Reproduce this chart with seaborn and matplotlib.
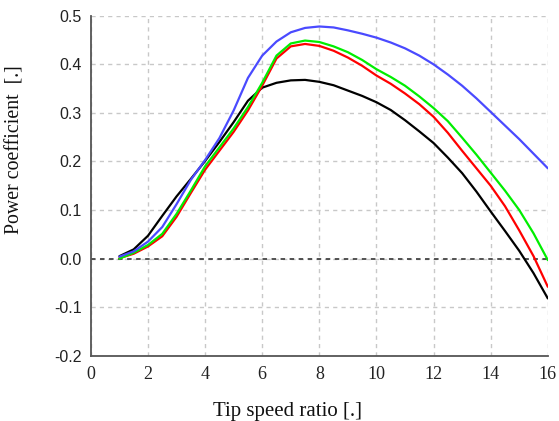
import numpy as np
import pandas as pd
import matplotlib
matplotlib.use("Agg")
import matplotlib.pyplot as plt
import seaborn as sns

tsr = [1, 1.5, 2, 2.5, 3, 3.5, 4, 4.5, 5, 5.5, 6, 6.5, 7, 7.5, 8, 8.5, 9, 9.5,
       10, 10.5, 11, 11.5, 12, 12.5, 13, 13.5, 14, 14.5, 15, 15.5, 16]

cp_black = [0.005, 0.019, 0.047, 0.088, 0.128, 0.164, 0.201, 0.240, 0.281, 0.325,
            0.352, 0.362, 0.367, 0.368, 0.364, 0.357, 0.346, 0.335, 0.322, 0.306,
            0.285, 0.262, 0.238, 0.208, 0.176, 0.138, 0.097, 0.057, 0.016, -0.030,
            -0.082]
cp_red = [0.001, 0.010, 0.025, 0.046, 0.086, 0.135, 0.183, 0.222, 0.261, 0.305,
          0.356, 0.412, 0.437, 0.442, 0.438, 0.428, 0.414, 0.397, 0.377, 0.360,
          0.340, 0.318, 0.292, 0.259, 0.222, 0.186, 0.150, 0.108, 0.058, 0.005,
          -0.058]
cp_green = [0.000, 0.012, 0.028, 0.051, 0.092, 0.140, 0.190, 0.229, 0.268, 0.312,
            0.362, 0.418, 0.443, 0.449, 0.446, 0.437, 0.425, 0.409, 0.390, 0.374,
            0.356, 0.334, 0.310, 0.283, 0.249, 0.214, 0.177, 0.140, 0.100, 0.052,
            -0.003]
cp_blue = [0.004, 0.015, 0.035, 0.065, 0.112, 0.162, 0.203, 0.248, 0.305, 0.372,
           0.418, 0.447, 0.466, 0.475, 0.478, 0.476, 0.470, 0.463, 0.455, 0.445,
           0.433, 0.418, 0.400, 0.379, 0.356, 0.330, 0.302, 0.274, 0.246, 0.216,
           0.186]

series_names = ["black", "red", "green", "blue"]
series_colors = ["#000000", "#ff0000", "#00ee00", "#4a4aff"]

x_ticks = [0, 2, 4, 6, 8, 10, 12, 14, 16]
y_ticks = [-0.2, -0.1, 0.0, 0.1, 0.2, 0.3, 0.4, 0.5]
y_tick_labels = ["-0.2", "-0.1", "0.0", "0.1", "0.2", "0.3", "0.4", "0.5"]
x_label = "Tip speed ratio [.]"
y_label = "Power coefficient  [.]"

frames = []
for name, vals in zip(series_names, [cp_black, cp_red, cp_green, cp_blue]):
    frames.append(pd.DataFrame({"tsr": tsr, "cp": vals, "series": name}))
df = pd.concat(frames, ignore_index=True)

sns.set_style("white")
fig = plt.figure(figsize=(5.59, 4.21), dpi=100)
ax = fig.add_axes([0.1625, 0.155, 0.8175, 0.8075])

axis_col = "#555555"
ax.grid(True, color="#c8c8c8", linestyle=(0, (3, 3)), linewidth=1.0)
ax.set_axisbelow(True)
ax.axhline(0.0, color="#444444", linestyle=(0, (2.5, 2.5)), linewidth=1.3, zorder=1.5)

sns.lineplot(data=df, x="tsr", y="cp", hue="series", hue_order=series_names,
             palette=series_colors, linewidth=1.6, legend=False, ax=ax, zorder=3)

ax.set_xlim(0, 16)
ax.set_ylim(-0.2, 0.5)
ax.set_xticks(x_ticks)
ax.set_xticklabels([str(t) for t in x_ticks], fontfamily="Liberation Serif", fontsize=13)
ax.set_yticks(y_ticks)
ax.set_yticklabels(y_tick_labels, fontfamily="Liberation Sans", fontsize=11.5)

for s in ["top", "right"]:
    ax.spines[s].set_visible(False)
for s in ["left", "bottom"]:
    ax.spines[s].set_color(axis_col)
    ax.spines[s].set_linewidth(1.3)
ax.tick_params(axis="both", direction="inout", length=11, width=1.3, color=axis_col,
               labelcolor="#222222")
ax.tick_params(axis="x", pad=2)
ax.tick_params(axis="y", pad=1)

ax.set_xlabel(x_label, fontfamily="Liberation Serif", fontsize=15, color="#111111", labelpad=10)
ax.set_ylabel(y_label, fontfamily="Liberation Serif", fontsize=14.3, color="#111111", labelpad=12)
ax.xaxis.set_label_coords(0.431, -0.135)
ax.yaxis.set_label_coords(-0.145, 0.606)

fig.savefig("out.png", dpi=100)
